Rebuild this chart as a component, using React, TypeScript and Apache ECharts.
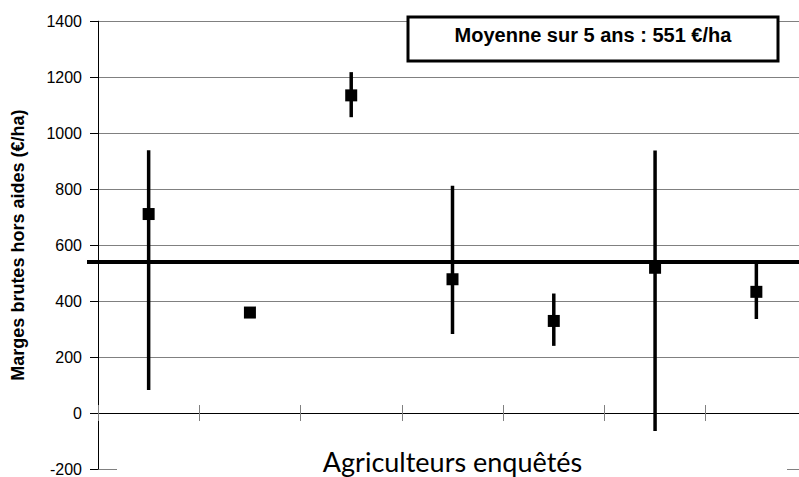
import React, { useEffect, useRef } from "react";
import * as echarts from "echarts";

const categories = ["1", "2", "3", "4", "5", "6", "7"];
const means = [711, 359, 1135, 478, 329, 519, 433];
const lows = [82, 359, 1057, 282, 240, -64, 336];
const highs = [939, 359, 1218, 812, 427, 938, 536];
const averageLine = 540;
const yMin = -200;
const yMax = 1400;
const yInterval = 200;
const legendText = "Moyenne sur 5 ans : 551 €/ha";
const yAxisTitle = "Marges brutes hors aides (€/ha)";
const xAxisTitle = "Agriculteurs enquêtés";

export default function App() {
  const ref = useRef<HTMLDivElement>(null);
  useEffect(() => {
    if (!ref.current) return;
    const chart = echarts.init(ref.current, undefined, { renderer: "svg" });
    const xBase = {
      type: "category",
      data: categories,
      axisLine: { show: true, onZero: true, onZeroAxisIndex: 0, lineStyle: { color: "#000", width: 1 } },
      axisLabel: { show: false },
      splitLine: { show: false },
    };
    chart.setOption({
      animation: false,
      backgroundColor: "#fff",
      grid: { left: 98, top: 21.2, width: 709, height: 450.4, containLabel: false },
      xAxis: [
        { ...xBase, position: "bottom", axisTick: { show: true, inside: false, length: 8, interval: 0, lineStyle: { color: "#808080" } } },
        { ...xBase, position: "bottom", axisTick: { show: true, inside: true, length: 8, interval: 0, lineStyle: { color: "#808080" } } },
      ],
      yAxis: {
        type: "value",
        min: yMin,
        max: yMax,
        interval: yInterval,
        name: yAxisTitle,
        nameLocation: "middle",
        nameRotate: 90,
        nameGap: 71,
        nameTextStyle: { fontFamily: "Liberation Sans", fontWeight: "bold", fontSize: 18, color: "#000" },
        axisLine: { show: true, lineStyle: { color: "#000", width: 1 } },
        axisTick: { show: true, length: 8, lineStyle: { color: "#000" } },
        axisLabel: {
          fontFamily: "Liberation Sans",
          fontSize: 16,
          color: "#000",
          margin: 16,
          formatter: (v: number) => String(v),
        },
        splitLine: { show: true, lineStyle: { color: "#808080", width: 1 } },
      },
      series: [
        {
          type: "custom",
          name: "moyenne",
          xAxisIndex: 0,
          yAxisIndex: 0,
          data: [[0, averageLine]],
          encode: { x: 0, y: 1 },
          z: 3,
          renderItem: (params: any, api: any) => {
            const cs = params.coordSys;
            const y = api.coord([0, api.value(1)])[1];
            return {
              type: "line",
              shape: { x1: cs.x - 11, y1: y, x2: cs.x + cs.width, y2: y },
              style: { stroke: "#000", lineWidth: 4 },
            };
          },
        },
        {
          type: "custom",
          name: "intervalle",
          xAxisIndex: 0,
          yAxisIndex: 0,
          data: categories.map((_, i) => [i, lows[i], highs[i]]),
          encode: { x: 0, y: [1, 2] },
          z: 4,
          renderItem: (_params: any, api: any) => {
            const x = api.value(0);
            const lo = api.coord([x, api.value(1)]);
            const hi = api.coord([x, api.value(2)]);
            return {
              type: "line",
              shape: { x1: lo[0], y1: lo[1], x2: hi[0], y2: hi[1] },
              style: { stroke: "#000", lineWidth: 3.5 },
            };
          },
        },
        {
          type: "scatter",
          name: "marge",
          xAxisIndex: 0,
          yAxisIndex: 0,
          data: means,
          symbol: "rect",
          symbolSize: 12,
          itemStyle: { color: "#000", opacity: 1 },
          z: 5,
        },
      ],
      graphic: [
        {
          type: "rect",
          z: 100,
          shape: { x: 117, y: 444, width: 670, height: 40 },
          style: { fill: "#fff" },
        },
        {
          type: "text",
          z: 101,
          x: 452.5,
          y: 461,
          style: {
            text: xAxisTitle,
            font: '27px Lato',
            fill: "#000",
            textAlign: "center",
            textVerticalAlign: "middle",
          },
        },
        {
          type: "rect",
          z: 100,
          shape: { x: 408, y: 17, width: 370, height: 44 },
          style: { fill: "#fff", stroke: "#000", lineWidth: 3 },
        },
        {
          type: "text",
          z: 101,
          x: 593,
          y: 35,
          style: {
            text: legendText,
            font: 'bold 20px "Liberation Sans"',
            fill: "#000",
            textAlign: "center",
            textVerticalAlign: "middle",
          },
        },
      ],
    });
    return () => chart.dispose();
  }, []);
  return (
    <div style={{ position: "fixed", left: 0, top: 0, width: 799, height: 477, overflow: "hidden", background: "#fff" }}>
      <div ref={ref} style={{ width: 810, height: 477 }} />
    </div>
  );
}
